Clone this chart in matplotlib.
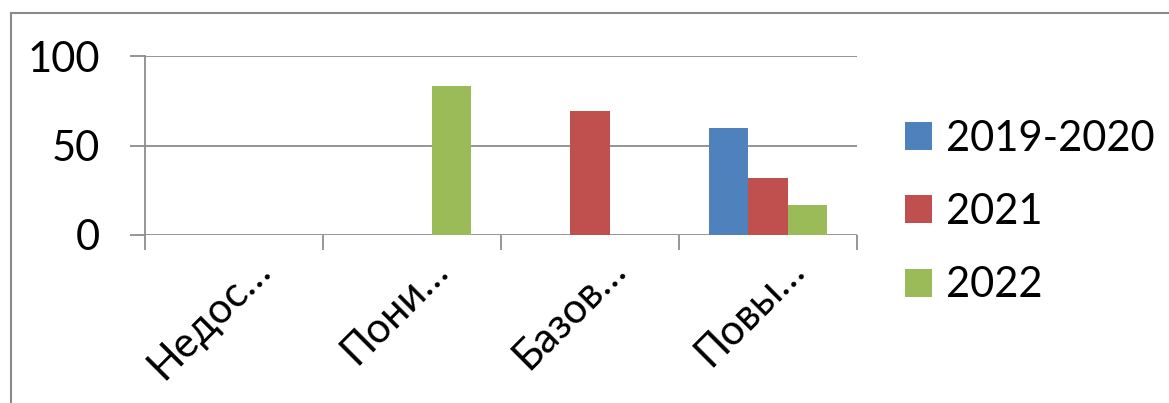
import matplotlib; matplotlib.use("Agg")
import matplotlib.pyplot as plt
from matplotlib.patches import Rectangle
import matplotlib.transforms as mtransforms
import numpy as np

plt.rcParams["font.family"] = ["Lato", "DejaVu Sans"]

categories = ["Недос…", "Пони…", "Базов…", "Повы…"]
series_names = ["2019-2020", "2021", "2022"]
vals_2019 = [0, 0, 0, 60]
vals_2021 = [0, 0, 69, 32]
vals_2022 = [0, 83, 0, 17]
yticks = [0, 50, 100]

BLUE = "#4F81BD"; RED = "#C0504D"; GREEN = "#9BBB59"; GRID = "#8c8c8c"
FS = 30

fig = plt.figure(figsize=(11.69, 4.03), dpi=100)
ax = fig.add_axes([145/1169, 1-235/403, (857-145)/1169, (235-56)/403])

x = np.arange(len(categories))
w = 0.222
for off, vals, col, name in zip([-w, 0, w], [vals_2019, vals_2021, vals_2022],
                                [BLUE, RED, GREEN], series_names):
    ax.bar(x + off, vals, width=w, color=col, label=name, zorder=3)

ax.set_xlim(-0.5, len(categories) - 0.5)
ax.set_ylim(0, 100)
ax.set_yticks(yticks)
ax.set_yticklabels([str(v) for v in yticks], fontsize=FS)
for v in yticks:
    ax.axhline(v, color=GRID, lw=1.3, zorder=1)
for s in ["top", "right", "bottom"]:
    ax.spines[s].set_visible(False)
ax.spines["left"].set_color(GRID); ax.spines["left"].set_linewidth(1.3)
ax.tick_params(axis="y", length=10.5, width=1.3, color=GRID, pad=22)

# category boundary ticks below the axis
ax.set_xticks(np.arange(-0.5, len(categories)))
ax.set_xticklabels([])
ax.tick_params(axis="x", length=10.5, width=1.3, color=GRID, direction="out")

off_tr = mtransforms.offset_copy(ax.transData, fig=fig, x=38, y=-37, units="dots")
for i, lab in enumerate(categories):
    ax.text(i, 0, lab, transform=off_tr, rotation=45, ha="right", va="baseline",
            rotation_mode="anchor", fontsize=FS)

fig.legend(loc="center left", bbox_to_anchor=(905/1169, 1-212/403), frameon=False,
           fontsize=FS, handlelength=0.65, handleheight=0.65, handletextpad=0.33,
           labelspacing=0.85, borderaxespad=0, borderpad=0)

fig.add_artist(Rectangle((11/1169, -0.1), 1.2, 1.1 - 13/403, transform=fig.transFigure,
                         fill=False, edgecolor="#8a8a8a", lw=1.5))

fig.savefig("out.png", dpi=100)
